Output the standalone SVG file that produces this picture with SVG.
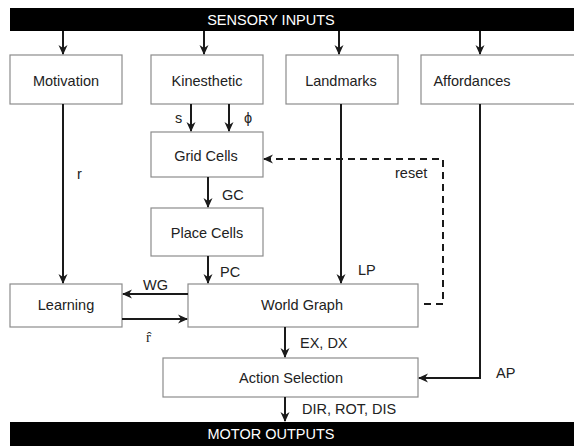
<svg xmlns="http://www.w3.org/2000/svg" width="574" height="447" viewBox="0 0 574 447">
<style>
text{font-family:"Liberation Sans",Arial,sans-serif;font-size:14.5px;fill:#222}
.bar{fill:#000}
.bt{fill:#fff;text-anchor:middle}
.box{fill:#fff;stroke:#8c8c8c;stroke-width:1.2}
.c{text-anchor:middle}
.ln{fill:none;stroke:#1a1a1a;stroke-width:2}
.dash{fill:none;stroke:#1a1a1a;stroke-width:2;stroke-dasharray:7,5}
</style>
<defs>
<marker id="ah" markerWidth="12" markerHeight="12" refX="9" refY="5" orient="auto" markerUnits="userSpaceOnUse">
<path d="M0,0.5 L10,5 L0,9.5 L3,5 Z" fill="#1a1a1a"/>
</marker>
</defs>
<rect width="574" height="447" fill="#fff"/>
<g id="sensory"><rect class="bar" x="10" y="8" width="564" height="23"/><text class="bt" x="271" y="25">SENSORY INPUTS</text></g>
<g id="motor"><rect class="bar" x="10" y="422" width="564" height="24"/><text class="bt" x="271" y="439">MOTOR OUTPUTS</text></g>
<g id="motivation"><rect class="box" x="10" y="55" width="112" height="49"/><text class="c" x="66" y="86">Motivation</text></g>
<g id="kinesthetic"><rect class="box" x="151" y="55" width="112" height="49"/><text class="c" x="207" y="86">Kinesthetic</text></g>
<g id="landmarks"><rect class="box" x="286" y="55" width="112" height="49"/><text class="c" x="341" y="86">Landmarks</text></g>
<g id="affordances"><rect class="box" x="421" y="55" width="160" height="49"/><text class="c" x="472" y="86">Affordances</text></g>
<g id="gridcells"><rect class="box" x="151" y="132" width="112" height="45"/><text class="c" x="206" y="161">Grid Cells</text></g>
<g id="placecells"><rect class="box" x="151" y="208" width="112" height="48"/><text class="c" x="207" y="238">Place Cells</text></g>
<g id="learning"><rect class="box" x="10" y="284" width="112" height="43"/><text class="c" x="66" y="310">Learning</text></g>
<g id="worldgraph"><rect class="box" x="188" y="284" width="230" height="43"/><text class="c" x="302" y="310">World Graph</text></g>
<g id="actionselection"><rect class="box" x="163" y="358" width="255" height="39"/><text class="c" x="291" y="383">Action Selection</text></g>
<g id="connectors">
<line class="ln" x1="63" y1="31" x2="63" y2="54" marker-end="url(#ah)"/>
<line class="ln" x1="204" y1="31" x2="204" y2="54" marker-end="url(#ah)"/>
<line class="ln" x1="339" y1="31" x2="339" y2="54" marker-end="url(#ah)"/>
<line class="ln" x1="480" y1="31" x2="480" y2="54" marker-end="url(#ah)"/>
<line class="ln" x1="191" y1="104" x2="191" y2="131" marker-end="url(#ah)"/>
<text x="175" y="123">s</text>
<line class="ln" x1="229" y1="104" x2="229" y2="131" marker-end="url(#ah)"/>
<text x="244" y="123">ϕ</text>
<line class="ln" x1="208" y1="177" x2="208" y2="207" marker-end="url(#ah)"/>
<text x="222" y="200">GC</text>
<line class="ln" x1="208" y1="256" x2="208" y2="283" marker-end="url(#ah)"/>
<text x="220" y="277">PC</text>
<line class="ln" x1="63" y1="104" x2="63" y2="283" marker-end="url(#ah)"/>
<text x="77" y="179">r</text>
<line class="ln" x1="341" y1="104" x2="341" y2="283" marker-end="url(#ah)"/>
<text x="358" y="275">LP</text>
<line class="ln" x1="188" y1="294" x2="123" y2="294" marker-end="url(#ah)"/>
<text x="143" y="290">WG</text>
<line class="ln" x1="122" y1="319" x2="187" y2="319" marker-end="url(#ah)"/>
<text x="146" y="342" style="font-family:'Liberation Serif',serif">r̂</text>
<polyline class="dash" points="424,304 443,304 443,159 264,159" marker-end="url(#ah)"/>
<text x="395" y="178">reset</text>
<polyline class="ln" points="480,104 480,378 419,378" marker-end="url(#ah)"/>
<text x="496" y="378">AP</text>
<line class="ln" x1="285" y1="327" x2="285" y2="357" marker-end="url(#ah)"/>
<text x="300" y="348">EX, DX</text>
<line class="ln" x1="285" y1="397" x2="285" y2="421" marker-end="url(#ah)"/>
<text x="302" y="414">DIR, ROT, DIS</text>
</g>
</svg>
